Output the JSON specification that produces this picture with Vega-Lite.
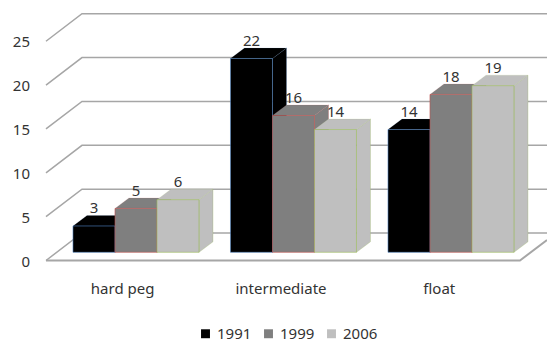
{
"$schema":"https://vega.github.io/schema/vega-lite/v6.json",
"width":547,"height":340,"padding":0,"autosize":{"type":"none"},
"background":"white",
"config":{"view":{"stroke":null},"text":{"font":"Noto Sans","fill":"#333333"}},
"datasets":{
"bars":[
{"group":"hard peg","year":"1991","value":3},
{"group":"hard peg","year":"1999","value":5},
{"group":"hard peg","year":"2006","value":6},
{"group":"intermediate","year":"1991","value":22.1},
{"group":"intermediate","year":"1999","value":15.6},
{"group":"intermediate","year":"2006","value":14},
{"group":"float","year":"1991","value":14},
{"group":"float","year":"1999","value":18},
{"group":"float","year":"2006","value":19}
],
"ticks":[{"tick":0},{"tick":5},{"tick":10},{"tick":15},{"tick":20},{"tick":25}],
"groups":[{"group":"hard peg"},{"group":"intermediate"},{"group":"float"}]
},
"layer":[
{"data":{"name":"ticks"},
 "transform":[{"calculate":"[0,1,2]","as":"v"},{"flatten":["v"]},
  {"calculate":"[1.095,1.952,13.024][datum.v]","as":"vx"},
  {"calculate":"datum.tick+[-0.935,2.2,2.2][datum.v]","as":"vy"}],
 "mark":{"type":"line","stroke":"#a6a6a6","strokeWidth":1.5,"clip":true},
 "encoding":{
  "x":{"field":"vx","type":"quantitative","scale":{"domain":[0,13.024],"nice":false,"zero":false},"axis":null},
  "y":{"field":"vy","type":"quantitative","scale":{"domain":[-10,28.77],"nice":false,"zero":false},"axis":null},
  "detail":{"field":"tick","type":"nominal"},"order":{"field":"v","type":"quantitative"}}},
{"data":{"name":"ticks"},
 "transform":[{"filter":"datum.tick==0"},{"calculate":"[0,1,2]","as":"v"},{"flatten":["v"]},
  {"calculate":"[1.095,12.38,13.024][datum.v]","as":"vx"},
  {"calculate":"[-0.935,-0.935,1.4][datum.v]","as":"vy"}],
 "mark":{"type":"line","stroke":"#a6a6a6","strokeWidth":2,"clip":true},
 "encoding":{
  "x":{"field":"vx","type":"quantitative","axis":null},
  "y":{"field":"vy","type":"quantitative","axis":null},
  "order":{"field":"v","type":"quantitative"}}},
{"data":{"name":"bars"},
 "transform":[
  {"calculate":"indexof(['hard peg','intermediate','float'],datum.group)*3.75+indexof(['1991','1999','2006'],datum.year)+1.738","as":"x0"},
  {"calculate":"[0,1]","as":"v"},{"flatten":["v"]},
  {"calculate":"datum.x0+1+datum.v/3","as":"vx"},
  {"calculate":"datum.v*1.2","as":"lo"},
  {"calculate":"datum.value+datum.v*1.2","as":"hi"},
  {"calculate":"datum.group+datum.year","as":"bar"}],
 "mark":{"type":"area","strokeWidth":0.6,"strokeOpacity":0.45,"opacity":1,"fillOpacity":1},
 "encoding":{
  "x":{"field":"vx","type":"quantitative","axis":null},
  "y":{"field":"lo","type":"quantitative","axis":null},
  "y2":{"field":"hi"},
  "detail":{"field":"bar","type":"nominal"},
  "color":{"field":"year","type":"nominal","title":null,"scale":{"domain":["1991","1999","2006"],"range":["#000000","#7f7f7f","#bfbfbf"]},
   "legend":{"orient":"none","legendX":198,"legendY":326,"direction":"horizontal","symbolType":"square","symbolSize":80,"symbolStrokeWidth":0,"labelFont":"Noto Sans","labelFontSize":15,"labelColor":"#333333","columnPadding":9,"labelOffset":4,"title":null}},
  "stroke":{"field":"year","type":"nominal","scale":{"domain":["1991","1999","2006"],"range":["#4f81bd","#c0504d","#9bbb59"]},"legend":null}}},
{"data":{"name":"bars"},
 "transform":[
  {"calculate":"indexof(['hard peg','intermediate','float'],datum.group)*3.75+indexof(['1991','1999','2006'],datum.year)+1.738","as":"x0"},
  {"calculate":"[0,1,2,3]","as":"v"},{"flatten":["v"]},
  {"calculate":"datum.x0+[0,1/3,1,4/3][datum.v]","as":"vx"},
  {"calculate":"datum.value+[0,0,0,1.2][datum.v]","as":"lo"},
  {"calculate":"datum.value+[0,1.2,1.2,1.2][datum.v]","as":"hi"},
  {"calculate":"datum.group+datum.year","as":"bar"}],
 "mark":{"type":"area","strokeWidth":0.4,"strokeOpacity":0.3,"opacity":1,"fillOpacity":1},
 "encoding":{
  "x":{"field":"vx","type":"quantitative","axis":null},
  "y":{"field":"lo","type":"quantitative","axis":null},
  "y2":{"field":"hi"},
  "detail":{"field":"bar","type":"nominal"},
  "color":{"field":"year","type":"nominal","title":null},
  "stroke":{"field":"year","type":"nominal","legend":null}}},
{"data":{"name":"bars"},
 "transform":[
  {"calculate":"indexof(['hard peg','intermediate','float'],datum.group)*3.75+indexof(['1991','1999','2006'],datum.year)+1.738","as":"x0"},
  {"calculate":"datum.x0+1","as":"x1"},
  {"calculate":"0","as":"base"}],
 "mark":{"type":"rect","strokeWidth":0.8,"strokeOpacity":0.75},
 "encoding":{
  "x":{"field":"x0","type":"quantitative","axis":null},
  "x2":{"field":"x1"},
  "y":{"field":"value","type":"quantitative","axis":null},
  "y2":{"field":"base"},
  "color":{"field":"year","type":"nominal","title":null},
  "stroke":{"field":"year","type":"nominal","legend":null}}},
{"data":{"name":"bars"},
 "transform":[
  {"calculate":"indexof(['hard peg','intermediate','float'],datum.group)*3.75+indexof(['1991','1999','2006'],datum.year)+1.738+0.5","as":"xc"}],
 "mark":{"type":"text","fontSize":15,"dy":-17.5,"baseline":"middle","align":"center"},
 "encoding":{
  "x":{"field":"xc","type":"quantitative","axis":null},
  "y":{"field":"value","type":"quantitative","axis":null},
  "text":{"field":"value","type":"quantitative","format":".0f"}}},
{"data":{"name":"ticks"},
 "transform":[{"calculate":"datum.tick-0.935","as":"ty"},{"calculate":"1.095","as":"tx"}],
 "mark":{"type":"text","fontSize":15,"align":"right","baseline":"middle","dx":-16,"dy":1},
 "encoding":{
  "x":{"field":"tx","type":"quantitative","axis":null},
  "y":{"field":"ty","type":"quantitative","axis":null},
  "text":{"field":"tick","type":"quantitative"}}},
{"data":{"name":"groups"},
 "transform":[{"calculate":"indexof(['hard peg','intermediate','float'],datum.group)*3.77+2.92","as":"xc"},{"calculate":"-4.2","as":"yc"}],
 "mark":{"type":"text","fontSize":15,"align":"center","baseline":"middle"},
 "encoding":{
  "x":{"field":"xc","type":"quantitative","axis":null},
  "y":{"field":"yc","type":"quantitative","axis":null},
  "text":{"field":"group","type":"nominal"}}}
]
}
